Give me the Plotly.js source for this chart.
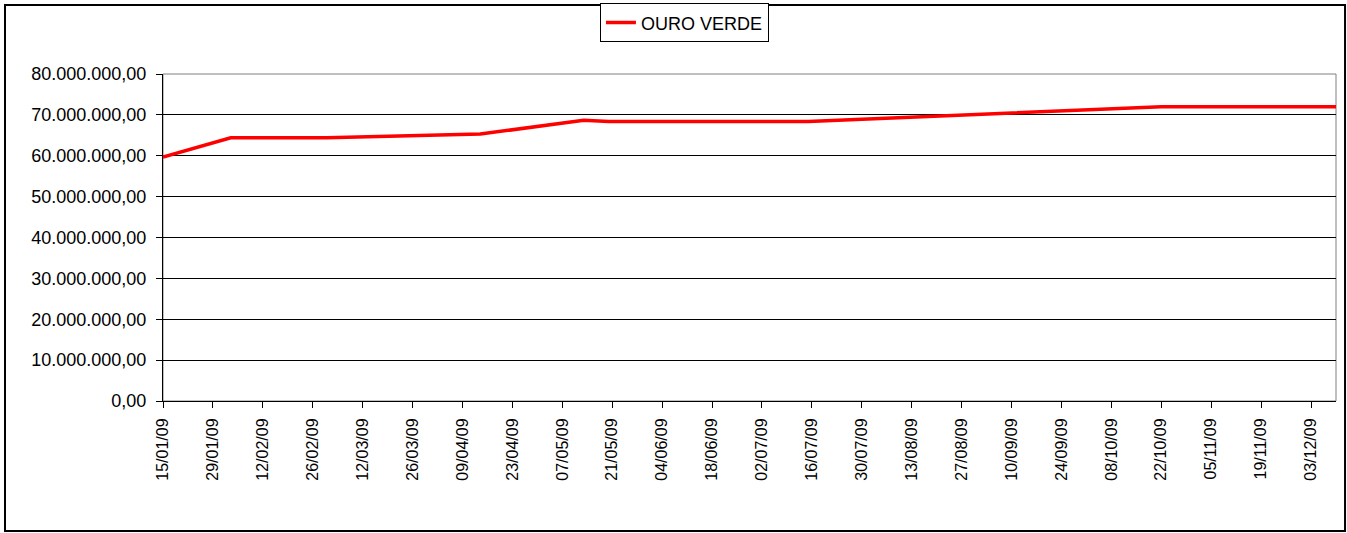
<!DOCTYPE html>
<html>
<head>
<meta charset="utf-8">
<script src="https://cdn.plot.ly/plotly-3.0.1.min.js"></script>
<style>
  html, body { margin: 0; padding: 0; background: #fff; }
  #chart { width: 1347px; height: 533px; }
</style>
</head>
<body>
<div id="chart"></div>
<script>
const seriesName = 'OURO VERDE';
const dates = ['2009-01-15', '2009-02-03', '2009-03-02', '2009-04-14', '2009-05-13', '2009-05-20', '2009-07-15', '2009-10-22', '2009-12-10'];
const values = [59650000, 64400000, 64400000, 65300000, 68700000, 68400000, 68400000, 72000000, 72000000];

const fam = 'Liberation Sans, Arial, sans-serif';
const font = { family: fam, size: 18, color: '#000' };
const xfont = { family: fam, size: 16, color: '#000' };

const trace = {
  x: dates,
  y: values,
  type: 'scatter',
  mode: 'lines',
  name: seriesName,
  line: { color: '#ff0000', width: 3.5 },
  showlegend: true
};

const layout = {
  width: 1347,
  height: 533,
  margin: { l: 163, r: 11, t: 74, b: 132, autoexpand: false },
  paper_bgcolor: '#fff',
  plot_bgcolor: '#fff',
  font: font,
  separators: ',.',
  showlegend: true,
  legend: {
    x: 0.3725, xanchor: 'left',
    y: 1.216, yanchor: 'top',
    bgcolor: '#fff',
    bordercolor: '#000',
    borderwidth: 1,
    font: font,
    tracegroupgap: 0
  },
  xaxis: {
    type: 'date',
    range: ['2009-01-15', '2009-12-10'],
    tick0: '2009-01-15',
    dtick: 14 * 86400000,
    tickformat: '%d/%m/%y',
    tickangle: -90,
    ticks: 'outside',
    ticklen: 6,
    tickcolor: '#000',
    ticklabelstandoff: 4,
    showgrid: false,
    showline: true,
    linecolor: '#000',
    linewidth: 1,
    zeroline: false,
    tickfont: xfont
  },
  yaxis: {
    range: [0, 80000000],
    dtick: 10000000,
    tickformat: ',.2f',
    ticks: 'outside',
    ticklen: 6,
    tickcolor: '#000',
    ticklabelstandoff: 6,
    showgrid: true,
    gridcolor: '#000',
    gridwidth: 1,
    showline: true,
    linecolor: '#000',
    linewidth: 1,
    zeroline: false,
    tickfont: font
  },
  shapes: [
    { type: 'rect', xref: 'paper', yref: 'paper', x0: 0, x1: 1, y0: 0, y1: 1,
      line: { color: '#808080', width: 1 }, layer: 'below' },
    { type: 'rect', xref: 'paper', yref: 'paper',
      x0: -0.1347, x1: 1.0077, y0: -0.3976, y1: 1.211,
      line: { color: '#000', width: 2 }, layer: 'below' }
  ]
};

Plotly.newPlot('chart', [trace], layout, { staticPlot: true, displayModeBar: false });
</script>
</body>
</html>
